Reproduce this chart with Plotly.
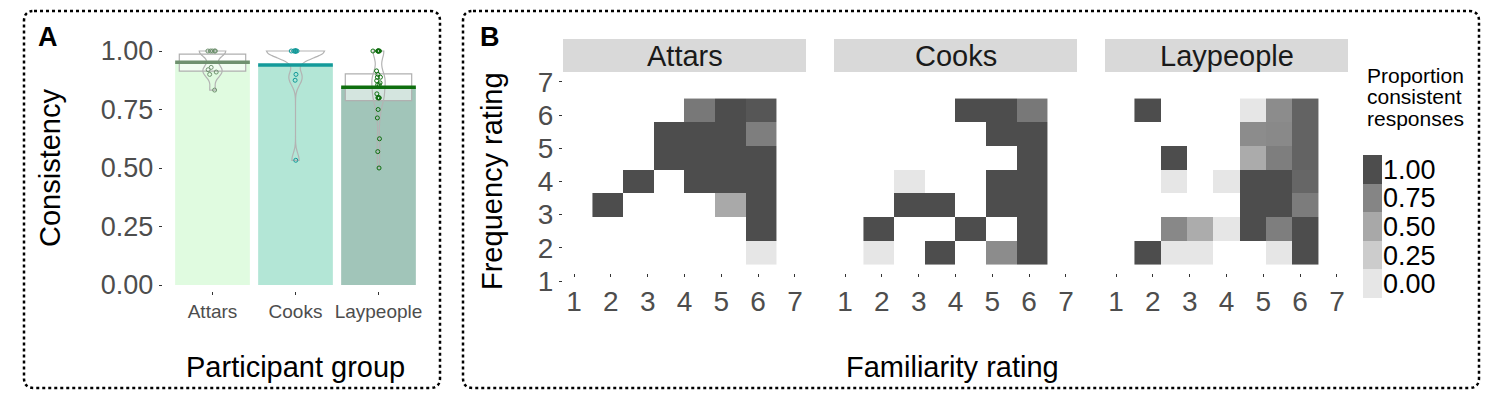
import plotly.graph_objects as go

# ---------------- data ----------------
groups = ["Attars", "Cooks", "Laypeople"]
consistency_mean = [0.952, 0.940, 0.845]
ci_low = [0.914, None, 0.788]
ci_high = [0.987, None, 0.902]

attars_points = [1.0, 1.0, 1.0, 1.0, 1.0, 0.93, 0.92, 0.91, 0.90, 0.833]
cooks_points = [1.0, 1.0, 1.0, 1.0, 1.0, 1.0, 1.0, 1.0, 0.90, 0.875, 0.533]
laypeople_points = [1.0, 1.0, 1.0, 1.0, 1.0, 1.0, 0.915, 0.90, 0.888, 0.888, 0.873,
                    0.864, 0.856, 0.856, 0.817, 0.80, 0.80, 0.80, 0.80, 0.75,
                    0.714, 0.625, 0.57, 0.50]

rating_ticks = [1, 2, 3, 4, 5, 6, 7]
frequency_levels = [1, 2, 3, 4, 5, 6, 7]

# rows = frequency 1..7 (bottom -> top), columns = familiarity levels present
attars_familiarity = [2, 3, 4, 5, 6, 7]
attars_z = [
    [None, None, None, None, None, 0.0],
    [None, None, None, None, None, 1.0],
    [1.0, None, None, None, 0.49, 1.0],
    [None, 1.0, None, 1.0, 1.0, 1.0],
    [None, None, 1.0, 1.0, 1.0, 1.0],
    [None, None, 1.0, 1.0, 1.0, 0.78],
    [None, None, None, 0.81, 1.0, 0.96],
]
cooks_familiarity = [2, 3, 4, 5, 6, 7]
cooks_z = [
    [0.0, None, 1.0, None, 0.70, 1.0],
    [1.0, None, None, 1.0, None, 1.0],
    [None, 1.0, 1.0, None, 1.0, 1.0],
    [None, 0.0, None, None, 1.0, 1.0],
    [None, None, None, None, None, 1.0],
    [None, None, None, None, 1.0, 1.0],
    [None, None, None, 1.0, 1.0, 0.81],
]
laypeople_familiarity = [1, 2, 3, 4, 5, 6, 7]
laypeople_z = [
    [1.0, 0.0, 0.0, None, None, 0.0, 1.0],
    [None, 0.73, 0.47, 0.0, 1.0, 0.78, 1.0],
    [None, None, None, None, 1.0, 1.0, 0.79],
    [None, 0.0, None, 0.0, 1.0, 1.0, 0.89],
    [None, 1.0, None, None, 0.48, 0.78, 0.90],
    [None, None, None, None, 0.70, 0.72, 0.90],
    [1.0, None, None, None, 0.0, 0.70, 0.90],
]
legend_levels = [0.0, 0.25, 0.5, 0.75, 1.0]
legend_labels = ["0.00", "0.25", "0.50", "0.75", "1.00"]

# ---------------- styles ----------------
W, H = 1500, 400
FONT = "Liberation Sans, Arial, sans-serif"
GRAY_TXT = "#4d4d4d"
bar_colors = ["#e0fbe0", "#b3e6d6", "#a1c5b9"]
line_colors = ["#6f916f", "#139a9a", "#0e6e0e"]
violin_widths = [0.32, 0.7, 0.16]
violin_bw = [0.025, 0.03, 0.035]
violin_jitter = [0.5, 0.2, 1.0]
gray_scale = [[0, "#e6e6e6"], [0.25, "#cccccc"], [0.5, "#a8a8a8"],
              [0.75, "#858585"], [1, "#4d4d4d"]]


def px(x):
    return x / W


def py(y):
    return (H - y) / H


fig = go.Figure()

# ---------------- panel A ----------------
xs = list(range(1, len(groups) + 1))
fig.add_trace(go.Bar(x=xs, y=consistency_mean, width=0.9,
                     marker=dict(color=bar_colors, line=dict(width=0)),
                     showlegend=False, hoverinfo="skip", xaxis="x", yaxis="y"))
ci_x = [x for x, lo in zip(xs, ci_low) if lo is not None]
ci_b = [lo for lo in ci_low if lo is not None]
ci_h = [hi - lo for lo, hi in zip(ci_low, ci_high) if lo is not None]
fig.add_trace(go.Bar(x=ci_x, y=ci_h, base=ci_b, width=0.8,
                     marker=dict(color="rgba(255,255,255,0.55)",
                                 line=dict(color="#b0b0b0", width=1.2)),
                     showlegend=False, hoverinfo="skip", xaxis="x", yaxis="y"))
for i, pts in enumerate([attars_points, cooks_points, laypeople_points]):
    fig.add_trace(go.Violin(x=[xs[i]] * len(pts), y=pts, width=violin_widths[i],
                            spanmode="hard", bandwidth=violin_bw[i],
                            line=dict(color="#b3b3b3", width=1.2),
                            fillcolor="rgba(0,0,0,0)",
                            points="all", pointpos=0, jitter=violin_jitter[i],
                            marker=dict(symbol="circle-open", size=4,
                                        color=line_colors[i],
                                        line=dict(width=1, color=line_colors[i])),
                            box_visible=False, meanline_visible=False,
                            showlegend=False, hoverinfo="skip",
                            xaxis="x", yaxis="y"))
for i, m in enumerate(consistency_mean):
    fig.add_trace(go.Scatter(x=[xs[i] - 0.45, xs[i] + 0.45], y=[m, m], mode="lines",
                             line=dict(color=line_colors[i], width=3.5),
                             showlegend=False, hoverinfo="skip",
                             xaxis="x", yaxis="y"))

# ---------------- panel B heatmaps ----------------
facets = [("Attars", attars_familiarity, attars_z),
          ("Cooks", cooks_familiarity, cooks_z),
          ("Laypeople", laypeople_familiarity, laypeople_z)]
cell_lo, cell_hi = 1.5, 6.5
for k, (name, fam, z) in enumerate(facets):
    ax = str(k + 2)
    wx = (cell_hi - cell_lo) / len(fam)
    wy = (cell_hi - cell_lo) / len(frequency_levels)
    fig.add_trace(go.Heatmap(z=z, x0=cell_lo + wx / 2, dx=wx,
                             y0=cell_lo + wy / 2, dy=wy,
                             zmin=0, zmax=1, colorscale=gray_scale,
                             showscale=False, hoverinfo="skip",
                             xaxis="x" + ax, yaxis="y" + ax))

# legend as heatmap
fig.add_trace(go.Heatmap(z=[[v] for v in legend_levels], x=[0],
                         y=legend_levels, zmin=0, zmax=1,
                         colorscale=gray_scale, showscale=False,
                         hoverinfo="skip", xaxis="x5", yaxis="y5"))

# ---------------- layout ----------------
layout = dict(
    width=W, height=H, margin=dict(l=0, r=0, t=0, b=0, autoexpand=False),
    paper_bgcolor="white", plot_bgcolor="white",
    font=dict(family=FONT, color="black"),
    barmode="overlay", violinmode="overlay", showlegend=False,
)
layout["xaxis"] = dict(domain=[px(162.7), px(428.3)], range=[0.4, 3.6],
                       tickvals=xs, ticktext=groups, ticks="outside", ticklen=3,
                       tickcolor="#333333", showgrid=False, zeroline=False,
                       showline=False, tickfont=dict(size=19, color=GRAY_TXT),
                       anchor="free", position=py(291), automargin=False)
layout["yaxis"] = dict(domain=[py(296.7), py(39.3)], range=[-0.05, 1.05],
                       tickvals=[0, 0.25, 0.5, 0.75, 1.0],
                       ticktext=["0.00", "0.25", "0.50", "0.75", "1.00"],
                       ticks="outside", ticklen=3, tickcolor="#333333",
                       showgrid=False, zeroline=False, showline=False,
                       tickfont=dict(size=27, color=GRAY_TXT), anchor="x",
                       automargin=False)

facet_px = [563, 834, 1105]
facet_w = 243
for k in range(3):
    ax = str(k + 2)
    layout["xaxis" + ax] = dict(domain=[px(facet_px[k]), px(facet_px[k] + facet_w)],
                                range=[0.7, 7.3], tickvals=rating_ticks,
                                ticks="outside", ticklen=3, tickcolor="#333333",
                                showgrid=False, zeroline=False, showline=False,
                                tickfont=dict(size=28, color=GRAY_TXT),
                                anchor="free", position=py(273), automargin=False)
    layout["yaxis" + ax] = dict(domain=[py(291), py(72)], range=[0.7, 7.3],
                                tickvals=rating_ticks,
                                ticks="outside" if k == 0 else "",
                                showticklabels=(k == 0), ticklen=3,
                                tickcolor="#333333",
                                showgrid=False, zeroline=False, showline=False,
                                tickfont=dict(size=28, color=GRAY_TXT),
                                anchor="x" + ax, automargin=False)
layout["xaxis5"] = dict(domain=[px(1363), px(1382)], showticklabels=False,
                        ticks="", showgrid=False, zeroline=False, anchor="y5",
                        automargin=False)
layout["yaxis5"] = dict(domain=[py(298), py(155)], side="right", ticks="",
                        range=[-0.125, 1.125], tickmode="array",
                        tickvals=legend_levels, ticktext=legend_labels,
                        showgrid=False, zeroline=False, anchor="x5",
                        tickfont=dict(size=27, color="black"), automargin=False)
fig.update_layout(**layout)

# strips
shapes = []
annotations = []
for k, (name, _, _) in enumerate(facets):
    ax = str(k + 2)
    shapes.append(dict(type="rect", xref="x" + ax + " domain", yref="paper",
                       x0=0, x1=1, y0=py(72), y1=py(39), fillcolor="#d9d9d9",
                       line=dict(width=0), layer="below"))
    annotations.append(dict(text=name, xref="x" + ax + " domain", yref="paper",
                            x=0.5, y=py(55.5), showarrow=False,
                            font=dict(size=29, color="#1a1a1a"),
                            xanchor="center", yanchor="middle"))


def rounded(x0, y0, x1, y1, r):
    return (f"M {px(x0 + r)},{py(y0)} L {px(x1 - r)},{py(y0)} "
            f"Q {px(x1)},{py(y0)} {px(x1)},{py(y0 + r)} "
            f"L {px(x1)},{py(y1 - r)} Q {px(x1)},{py(y1)} {px(x1 - r)},{py(y1)} "
            f"L {px(x0 + r)},{py(y1)} Q {px(x0)},{py(y1)} {px(x0)},{py(y1 - r)} "
            f"L {px(x0)},{py(y0 + r)} Q {px(x0)},{py(y0)} {px(x0 + r)},{py(y0)} Z")


for (a, b, c, d) in [(24, 11, 440, 388), (463, 11, 1479, 388)]:
    shapes.append(dict(type="path", path=rounded(a, b, c, d, 10), xref="paper",
                       yref="paper", line=dict(color="black", width=2.5, dash="dot")))


def label(text, x, y, size=29, angle=0, bold=False):
    return dict(text=f"<b>{text}</b>" if bold else text, x=px(x), y=py(y),
                xref="paper", yref="paper", showarrow=False, textangle=angle,
                xanchor="center", yanchor="middle",
                font=dict(size=size, color="black"))


annotations += [
    label("A", 48, 37, size=27, bold=True),
    label("B", 490, 37, size=27, bold=True),
    label("Consistency", 50, 168, angle=-90),
    label("Participant group", 295, 367),
    label("Frequency rating", 492, 181, angle=-90),
    label("Familiarity rating", 952, 367),
]
for j, line in enumerate(["Proportion", "consistent", "responses"]):
    annotations.append(dict(text=line, x=px(1365), y=py(75 + 21.7 * j),
                            xref="paper", yref="paper", showarrow=False,
                            xanchor="left", yanchor="middle",
                            font=dict(size=21, color="black")))

fig.update_layout(shapes=shapes, annotations=annotations)
fig.write_html("out.html", config={"displayModeBar": False},
               post_script="document.body.style.margin='0px';")
